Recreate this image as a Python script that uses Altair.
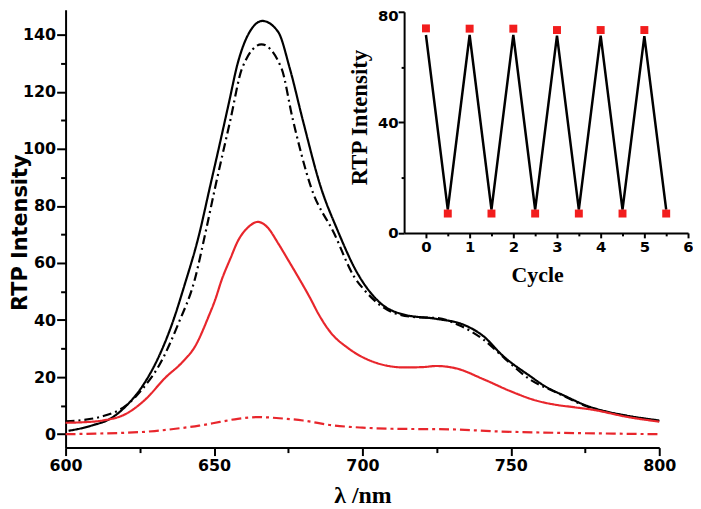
import altair as alt
import pandas as pd

# ---- main spectra (wavelength nm, RTP intensity) ----
bs_wl = [601, 605, 609, 615, 620, 626, 631.5, 636, 640, 645, 648.5, 652, 655, 658, 661.5, 666.3,
         671.6, 675.5, 680, 686, 691.6, 698, 706, 714, 725, 734, 740.7, 747.4, 756.3, 762, 768, 775.5,
         782, 789, 800]
bs_int = [1.2, 2.0, 3.1, 5.4, 9.5, 17, 27.4, 39, 52, 70, 86, 102, 116, 130, 140, 144.8,
          141, 128.3, 109.7, 86.5, 71.5, 57, 46, 41.9, 40.4, 38.4, 34.4, 27.4, 20.5, 16.5, 13.5, 10,
          8, 6.5, 4.8]

bd_wl = [600, 606, 612.5, 620.3, 626, 631.4, 638.1, 643.5, 647, 650.4, 655.5, 659.5, 666, 672.7, 676.5,
         682.7, 690.5, 697.2, 700.6, 710.6, 718, 725, 733, 740.7, 748, 756.3, 765.2, 775.5, 789, 800]
bd_int = [4.5, 5.0, 6.3, 10, 16, 23.9, 39, 54.1, 70, 86.5, 110, 128.3, 136.6, 128.3, 110.5,
          86.5, 70.3, 55.2, 50.6, 42.5, 41, 40.7, 38, 33.2, 26.5, 19.3, 14.7, 9.8, 6.4, 4.6]

rs_wl = [600, 606, 612.5, 620.3, 627, 633.7, 639.2, 643.7, 648.2, 650.4, 652.6, 655.5, 658.2, 661.5,
         664.8, 668, 671.6, 675, 678.3, 682.7, 685, 689.4, 695, 702.8, 714, 720, 725, 731.8, 740.7,
         749.6, 758.5, 765.2, 771, 778, 789, 800]
rs_int = [4.0, 4.2, 4.8, 7.1, 12.3, 19.9, 25.1, 30.9, 41.3, 47.1, 54.1, 61.5, 68, 72.5,
          74.4, 72.5, 66.9, 61, 55.2, 47.1, 42.5, 35.5, 30.3, 25.7, 23.4, 23.5, 23.9, 23, 19.3,
          15.2, 11.8, 10.3, 9.5, 8.5, 6.1, 4.4]

rd_wl = [600, 610, 620, 630, 637, 645, 652, 658, 665, 672, 680, 690, 700, 710, 720, 730, 745, 765, 785, 800]
rd_int = [0, 0.2, 0.5, 1.1, 1.9, 3.0, 4.3, 5.4, 6.0, 5.6, 4.8, 3.1, 2.3, 1.9, 1.8, 1.7, 1.0, 0.5, 0.2, 0]

series_names = ["black_solid", "black_dashdot", "red_solid", "red_dashdot"]
series_colors = ["#000000", "#000000", "#e8262c", "#e8262c"]
series_dash = [[1, 0], [9, 4, 2, 4], [1, 0], [10, 4, 3, 4]]

# ---- inset: cycling ----
cycle_x = [0, 0.5, 1, 1.5, 2, 2.5, 3, 3.5, 4, 4.5, 5, 5.5]
cycle_line = [71.6, 8.4, 71.6, 8.4, 71.6, 8.4, 71.4, 8.4, 71.4, 8.4, 71.2, 8.4]
cycle_marks = [74.0, 7.0, 73.9, 7.0, 73.9, 7.0, 73.4, 7.0, 73.4, 7.0, 73.4, 7.0]

frames = []
for name, wl, val in zip(series_names, [bs_wl, bd_wl, rs_wl, rd_wl], [bs_int, bd_int, rs_int, rd_int]):
    frames.append(pd.DataFrame({"wl": wl, "v": val, "s": name}))
df_main = pd.concat(frames, ignore_index=True)
df_line = pd.DataFrame({"c": cycle_x, "v": cycle_line})
df_mark = pd.DataFrame({"c": cycle_x, "v": cycle_marks})

SANS = "DejaVu Sans"
SERIF = "Liberation Serif"

main_x = alt.X(
    "wl:Q",
    scale=alt.Scale(domain=[600, 800], nice=False, zero=False),
    axis=alt.Axis(
        values=list(range(600, 801, 25)),
        labelExpr="datum.value % 50 === 0 ? toString(datum.value) : ''",
        tickSize={"condition": {"test": "datum.value % 50 === 0", "value": 8}, "value": 5},
        tickWidth=2, domainWidth=2, grid=False,
        labelFont=SANS, labelFontWeight="bold", labelFontSize=16, labelPadding=2,
        labelFlush=False, labelOverlap=False,
        title="λ /nm", titleFont=SERIF, titleFontSize=24, titleFontWeight="bold",
        titleX=299, titleY=55, titleAlign="center", titleBaseline="alphabetic",
    ),
)
main_y = alt.Y(
    "v:Q",
    scale=alt.Scale(domain=[-4.7, 148.7], nice=False, zero=False),
    axis=alt.Axis(
        values=list(range(0, 141, 10)),
        labelExpr="datum.value % 20 === 0 ? toString(datum.value) : ''",
        tickSize={"condition": {"test": "datum.value % 20 === 0", "value": 9}, "value": 5},
        tickWidth=2, domainWidth=2, grid=False,
        labelFont=SANS, labelFontWeight="bold", labelFontSize=16, labelPadding=1,
        labelFlush=False, labelOverlap=False,
        title="RTP Intensity", titleFont=SANS, titleFontSize=21, titleFontWeight="bold",
        titleAngle=270, titleX=-45, titleY=224, titleAlign="center", titleBaseline="middle",
    ),
)

main = alt.Chart(df_main).mark_line(strokeWidth=2.2, interpolate="monotone").encode(
    x=main_x,
    y=main_y,
    color=alt.Color("s:N", scale=alt.Scale(domain=series_names, range=series_colors), legend=None),
    strokeDash=alt.StrokeDash("s:N", scale=alt.Scale(domain=series_names, range=series_dash), legend=None),
)

inset_x = alt.X(
    "c:Q",
    scale=alt.Scale(domain=[-0.5, 6], range=[341, 627], nice=False, zero=False),
    axis=alt.Axis(
        orient="bottom", offset=-216.3,
        values=[0, 0.5, 1, 1.5, 2, 2.5, 3, 3.5, 4, 4.5, 5, 5.5, 6],
        labelExpr="datum.value % 1 === 0 ? toString(datum.value) : ''",
        tickSize={"condition": {"test": "datum.value % 1 === 0", "value": 5}, "value": 3},
        tickWidth=2, domainWidth=2, grid=False,
        labelFont=SANS, labelFontWeight="bold", labelFontSize=15, labelPadding=2,
        labelFlush=False, labelOverlap=False,
        title="Cycle", titleFont=SERIF, titleFontSize=22, titleFontWeight="bold",
        titleX=475, titleY=49, titleAlign="center", titleBaseline="alphabetic",
    ),
)
inset_y = alt.Y(
    "v:Q",
    scale=alt.Scale(domain=[0, 80], range=[224.7, 2], nice=False, zero=False),
    axis=alt.Axis(
        orient="left", offset=-341,
        values=[0, 20, 40, 60, 80],
        labelExpr="datum.value % 40 === 0 ? toString(datum.value) : ''",
        labelOffset={"condition": {"test": "datum.value === 80", "value": 4}, "value": 0},
        tickSize={"condition": {"test": "datum.value % 40 === 0", "value": 6}, "value": 3},
        tickWidth=2, domainWidth=2, grid=False,
        labelFont=SANS, labelFontWeight="bold", labelFontSize=15, labelPadding=0,
        labelFlush=False, labelOverlap=False,
        title="RTP Intensity", titleFont=SERIF, titleFontSize=23, titleFontWeight="bold",
        titleAngle=270, titleX=-44.5, titleY=108, titleAlign="center", titleBaseline="middle",
    ),
)

inset_line = alt.Chart(df_line).mark_line(color="black", strokeWidth=2.5, strokeJoin="bevel").encode(
    x=inset_x, y=inset_y
)
inset_pts = alt.Chart(df_mark).mark_square(color="#f21d1d", size=64, opacity=1, filled=True).encode(
    x=inset_x, y=inset_y
)
inset = alt.layer(inset_line, inset_pts)

chart = (
    alt.layer(main, inset)
    .resolve_scale(x="independent", y="independent")
    .properties(
        width=598,
        height=441,
        autosize=alt.AutoSizeParams(type="none"),
        padding={"left": 58, "top": 0, "right": 34, "bottom": 60},
    )
    .configure_view(strokeWidth=0)
    .configure_axis(domainColor="black", tickColor="black", labelColor="black", titleColor="black")
)

chart.save("out.html", embed_options={"renderer": "svg", "actions": False})
